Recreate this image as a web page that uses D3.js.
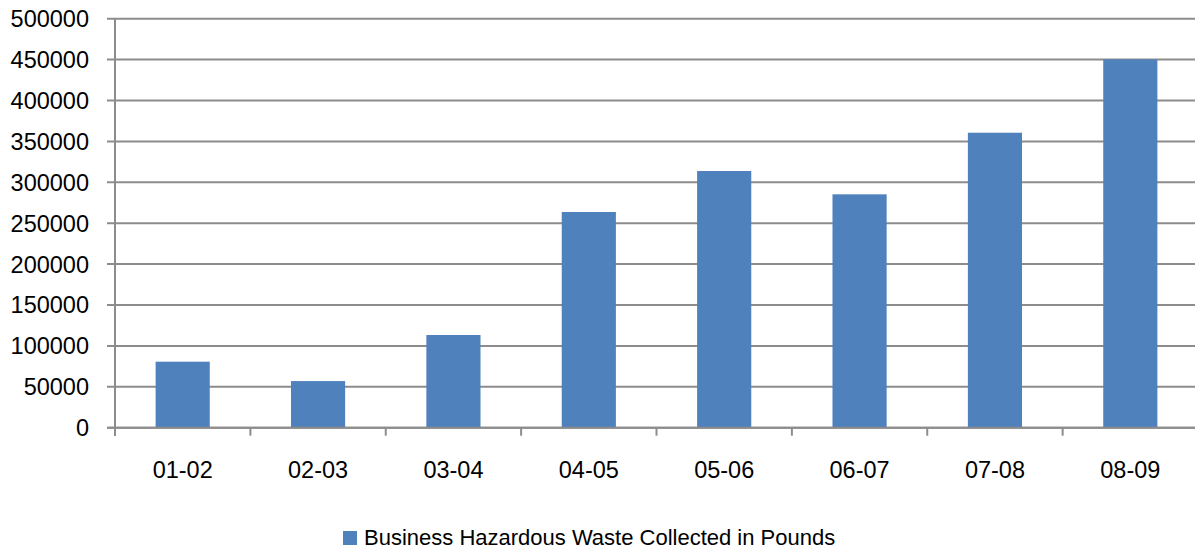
<!DOCTYPE html>
<html>
<head>
<meta charset="utf-8">
<script src="https://cdn.jsdelivr.net/npm/d3@7"></script>
<style>
  html, body { margin: 0; padding: 0; background: #fff; }
  svg text { font-family: "Liberation Sans", "DejaVu Sans", sans-serif; fill: #000; }
</style>
</head>
<body>
<svg id="chart" width="1195" height="552"></svg>
<script>
// Fiscal years and pounds of business hazardous waste collected
const categories = ["01-02", "02-03", "03-04", "04-05", "05-06", "06-07", "07-08", "08-09"];
const pounds = [80700, 57000, 113300, 263700, 313800, 285300, 360600, 450300];
const yTicks = [0, 50000, 100000, 150000, 200000, 250000, 300000, 350000, 400000, 450000, 500000];
const seriesName = "Business Hazardous Waste Collected in Pounds";

const svg = d3.select("#chart");
const plot = { left: 115, right: 1198, top: 18.7, bottom: 427.7 };

const x = d3.scaleBand().domain(categories).range([plot.left, plot.right]).paddingInner(0.6).paddingOuter(0.3);
const y = d3.scaleLinear().domain([0, 500000]).range([plot.bottom, plot.top]);

// Horizontal gridlines with short outer ticks on the value axis
svg.append("g")
  .selectAll("line")
  .data(yTicks)
  .join("line")
  .attr("x1", plot.left - 8).attr("x2", plot.right)
  .attr("y1", d => y(d)).attr("y2", d => y(d))
  .attr("stroke", "#8c8c8c").attr("stroke-width", 2);

// Value axis labels
svg.append("g")
  .selectAll("text")
  .data(yTicks)
  .join("text")
  .attr("x", 89).attr("y", d => y(d))
  .attr("dy", "0.36em")
  .attr("text-anchor", "end")
  .attr("font-size", 23.5)
  .text(d => d);

// Vertical axis line
svg.append("line")
  .attr("x1", plot.left).attr("x2", plot.left)
  .attr("y1", plot.top).attr("y2", plot.bottom + 8)
  .attr("stroke", "#8c8c8c").attr("stroke-width", 2);

// Bars
svg.append("g")
  .selectAll("rect")
  .data(categories)
  .join("rect")
  .attr("x", d => x(d))
  .attr("width", x.bandwidth())
  .attr("y", (d, i) => y(pounds[i]))
  .attr("height", (d, i) => y(0) - y(pounds[i]))
  .attr("fill", "#4f81bd");

// Category boundary ticks below the baseline
const step = x.step();
const boundaries = d3.range(categories.length + 1).map(i => plot.left + i * step);
svg.append("g")
  .selectAll("line")
  .data(boundaries)
  .join("line")
  .attr("x1", d => d).attr("x2", d => d)
  .attr("y1", plot.bottom).attr("y2", plot.bottom + 8)
  .attr("stroke", "#8c8c8c").attr("stroke-width", 2);

// Baseline
svg.append("line")
  .attr("x1", plot.left - 8).attr("x2", plot.right)
  .attr("y1", plot.bottom).attr("y2", plot.bottom)
  .attr("stroke", "#8c8c8c").attr("stroke-width", 2);

// Category labels
svg.append("g")
  .selectAll("text")
  .data(categories)
  .join("text")
  .attr("x", d => x(d) + x.bandwidth() / 2)
  .attr("y", 478)
  .attr("text-anchor", "middle")
  .attr("font-size", 23.5)
  .text(d => d);

// Legend
const legend = svg.append("g");
legend.append("rect")
  .attr("x", 343).attr("y", 531).attr("width", 14).attr("height", 14)
  .attr("fill", "#4f81bd");
legend.append("text")
  .attr("x", 364).attr("y", 545)
  .attr("font-size", 22)
  .text(seriesName);
</script>
</body>
</html>
